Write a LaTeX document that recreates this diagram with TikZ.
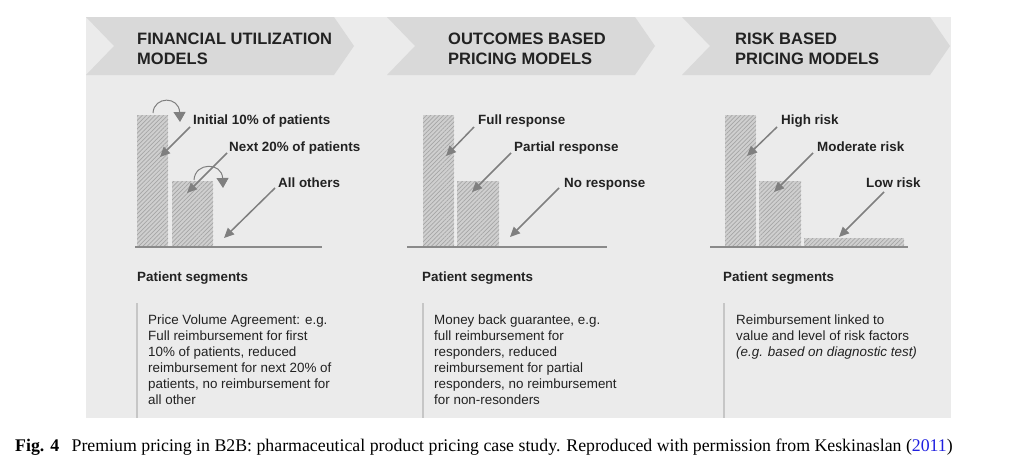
\documentclass[tikz,border=0pt]{standalone}
\usepackage{fontspec}
\setmainfont{Liberation Serif}
\setsansfont{Liberation Sans}
\usepackage{tikz}
\usetikzlibrary{arrows.meta,patterns.meta,calc}
\definecolor{panelbg}{HTML}{EBEBEB}
\definecolor{chevgray}{HTML}{D9D9D9}
\definecolor{inkgray}{HTML}{222222}
\definecolor{ptrgray}{HTML}{7F7F7F}
\definecolor{axisgray}{HTML}{8A8A8A}
\definecolor{rulegray}{HTML}{C6C6C6}
\definecolor{barfill}{HTML}{CFCFCF}
\definecolor{barhatch}{HTML}{A6A6A6}
\definecolor{citeblue}{HTML}{2020E0}
\tikzset{head/.style={anchor=north west, inner sep=0, align=left, text=inkgray, font=\sffamily\bfseries\fontsize{16.5}{20}\selectfont},
	lbl/.style={anchor=base west, inner sep=0, text=inkgray, font=\sffamily\bfseries\fontsize{13.4}{16}\selectfont},
	desc/.style={anchor=north west, inner sep=0, align=left, text=inkgray, font=\sffamily\fontsize{13.4}{16}\selectfont},
	bar/.style={anchor=south west, inner sep=0, outer sep=0, fill=barfill, postaction={pattern={Lines[angle=45,distance=3pt,line width=0.7pt]}, pattern color=barhatch}},
	ptr/.style={draw=ptrgray, line width=1.5pt, -{Triangle[length=10pt,width=9pt]}},
	turn/.style={draw=ptrgray, line width=1pt, -{Triangle[length=10pt,width=12pt]}},
	axisline/.style={draw=axisgray, line width=2pt},
	sepline/.style={draw=rulegray, line width=1.5pt}}

\begin{document}
\begin{tikzpicture}[x=1pt,y=-1pt]
	\useasboundingbox[fill=white] (0,0) rectangle (1024,474);
	\fill[panelbg] (86,17) rectangle (951,418);
	\foreach \cx in {86,387,682}
		\fill[chevgray] (\cx,17) -- ++(248,0) -- ++(20,29) -- ++(-20,29) -- ++(-248,0) -- ++(28,-29) -- cycle;
	\node[head] (h1) at (137,33) {FINANCIAL UTILIZATION\\MODELS};
	\node[head] (h2) at (448,33) {OUTCOMES BASED\\PRICING MODELS};
	\node[head] (h3) at (735,33) {RISK BASED\\PRICING MODELS};
	% financial utilization
	\node[bar, minimum width=31pt, minimum height=131pt] (b11) at (137,246) {};
	\node[bar, minimum width=41pt, minimum height=65pt] (b12) at (172,246) {};
	\draw[axisline] (135,246.5) -- (322,246.5);
	\node[lbl] (l11) at (193,124) {Initial 10\% of patients};
	\node[lbl] (l12) at (229,151) {Next 20\% of patients};
	\node[lbl] (l13) at (278,187) {All others};
	\coordinate (t11) at (160,157);
	\coordinate (t12) at (187,193);
	\coordinate (t13) at (224,238);
	\coordinate (c11) at (180,122);
	\coordinate (c12) at (223,188);
	\draw[ptr] ([shift={(-3,3)}]l11.base west) -- (t11);
	\draw[ptr] ([shift={(-2,2)}]l12.base west) -- (t12);
	\draw[ptr] ([shift={(-3,1)}]l13.base west) -- (t13);
	\draw[turn] ([shift={(0.5,-2)}]b11.north) .. controls (154,96) and (179,96) .. (c11);
	\draw[turn] ([shift={(1.5,-1)}]b12.north) .. controls (195,162) and (222,162) .. (c12);
	\node[lbl] (s1) at (137,281) {Patient segments};
	\draw[sepline] (137,303) -- (137,418);
	\node[desc] (d1) at (148,315) {Price Volume Agreement: e.g.\\Full reimbursement for first\\10\% of patients, reduced\\reimbursement for next 20\% of\\patients, no reimbursement for\\all other};
	% outcomes based
	\node[bar, minimum width=31pt, minimum height=131pt] (b21) at (423,246) {};
	\node[bar, minimum width=42pt, minimum height=65pt] (b22) at (457,246) {};
	\draw[axisline] (407,246.5) -- (607,246.5);
	\node[lbl] (l21) at (478,124) {Full response};
	\node[lbl] (l22) at (514,151) {Partial response};
	\node[lbl] (l23) at (564,187) {No response};
	\coordinate (t21) at (446,156);
	\coordinate (t22) at (472,192);
	\coordinate (t23) at (510,237);
	\draw[ptr] ([shift={(-4,3)}]l21.base west) -- (t21);
	\draw[ptr] ([shift={(-3,2)}]l22.base west) -- (t22);
	\draw[ptr] ([shift={(-5,1)}]l23.base west) -- (t23);
	\node[lbl] (s2) at (422,281) {Patient segments};
	\draw[sepline] (423,303) -- (423,418);
	\node[desc] (d2) at (434,315) {Money back guarantee, e.g.\\full reimbursement for\\responders, reduced\\reimbursement for partial\\responders, no reimbursement\\for non-resonders};
	% risk based
	\node[bar, minimum width=31pt, minimum height=131pt] (b31) at (725,246) {};
	\node[bar, minimum width=42pt, minimum height=65pt] (b32) at (759,246) {};
	\node[bar, minimum width=100pt, minimum height=8pt] (b33) at (804,246) {};
	\draw[axisline] (710,246.5) -- (908,246.5);
	\node[lbl] (l31) at (781,124) {High risk};
	\node[lbl] (l32) at (817,151) {Moderate risk};
	\node[lbl] (l33) at (866,187) {Low risk};
	\coordinate (t31) at (747,156);
	\coordinate (t32) at (774,192);
	\coordinate (t33) at (839,237);
	\draw[ptr] ([shift={(-4,3)}]l31.base west) -- (t31);
	\draw[ptr] ([shift={(-4,2)}]l32.base west) -- (t32);
	\draw[ptr] ([shift={(18,5)}]l33.base west) -- (t33);
	\node[lbl] (s3) at (723,281) {Patient segments};
	\draw[sepline] (724,303) -- (724,418);
	\node[desc] (d3) at (736,315) {Reimbursement linked to\\value and level of risk factors\\\textit{(e.g. based on diagnostic test)}};
	% caption
	\node[anchor=west, inner sep=0, font=\fontsize{17.8}{20}\selectfont] (cap) at (15,447) {\textbf{Fig. 4}\hspace{0.7em}Premium pricing in B2B: pharmaceutical product pricing case study. Reproduced with permission from Keskinaslan (\textcolor{citeblue}{2011})};
\end{tikzpicture}
\end{document}
